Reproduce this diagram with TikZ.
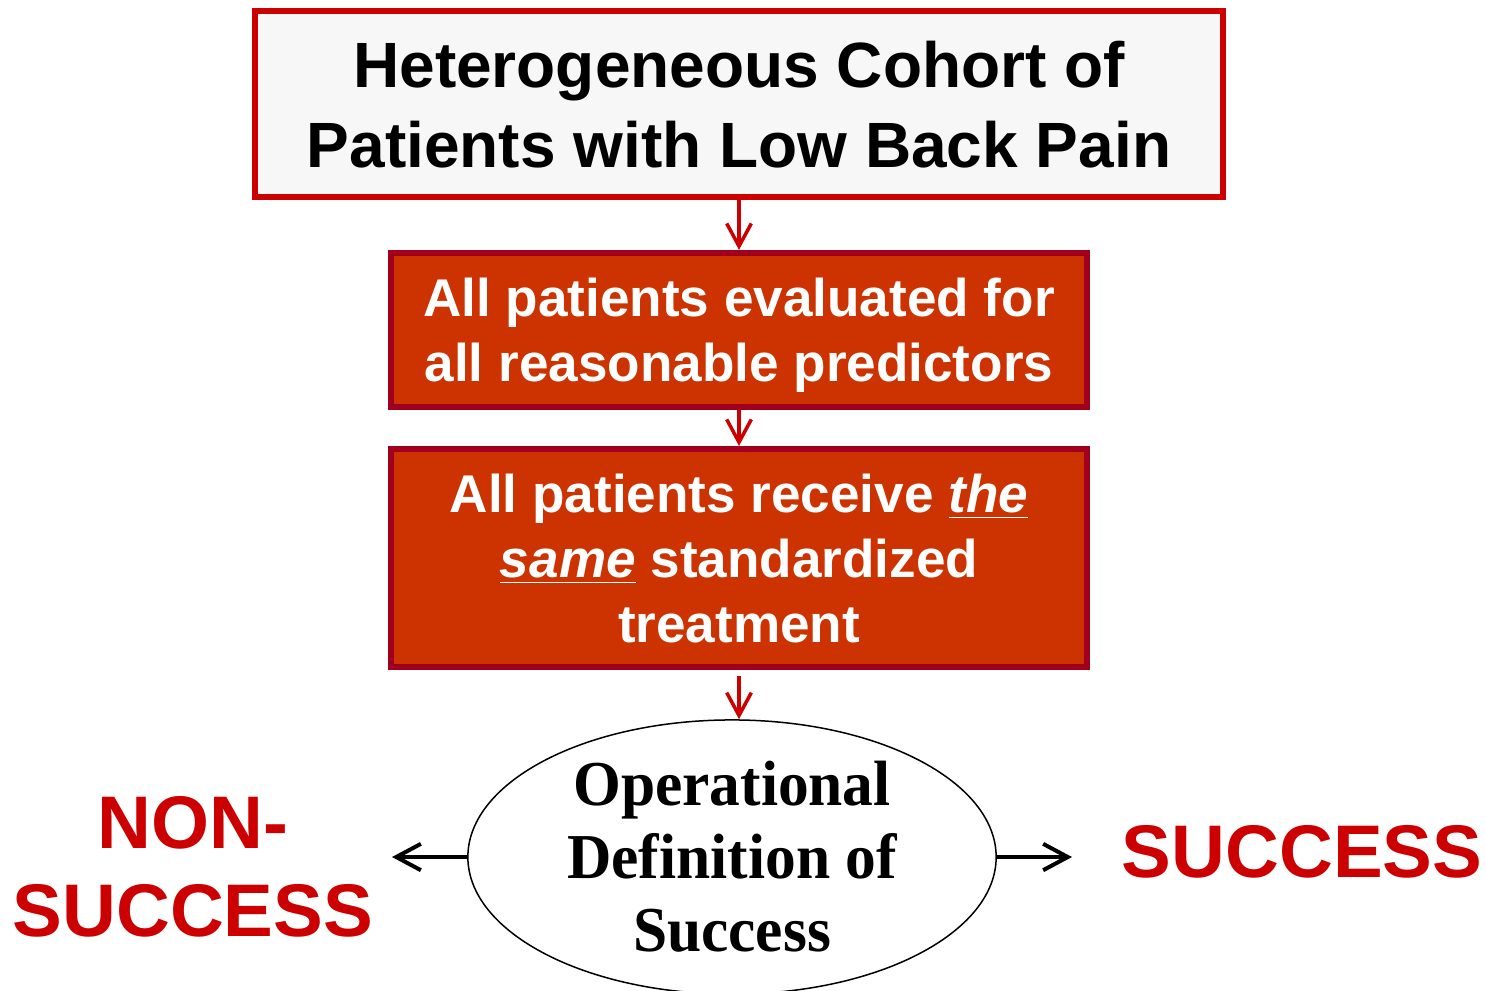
\documentclass[tikz,border=0pt]{standalone}
\usepackage{fontspec}
\setmainfont{Liberation Sans}
\newfontfamily\ovalfont[FakeStretch=0.96]{Liberation Serif}
\usetikzlibrary{shapes.geometric,arrows.meta}
\definecolor{boxred}{HTML}{CC0000}
\definecolor{boxfill}{HTML}{CC3300}
\definecolor{boxline}{HTML}{A0001E}
\tikzset{
	cohortbox/.style={draw=boxred, line width=6*0.2845pt, fill=black!3, minimum width=9.68cm, minimum height=1.86cm, align=center, text depth=-1.7pt, font=\fontsize{18.2}{22.8}\selectfont\bfseries},
	stagebox/.style={draw=boxline, line width=6*0.2845pt, fill=boxfill, text=white, minimum width=6.96cm, align=center, font=\fontsize{15.1}{18.5}\selectfont\bfseries},
	outcome/.style={text=boxred, align=center, font=\fontsize{21.2}{25}\selectfont\bfseries},
	redarrow/.style={draw=boxred, line width=3.5*0.2845pt, -{Straight Barb[length=6.5pt,width=7pt,line width=3.5*0.2845pt]}},
	blackarrow/.style={draw=black, line width=4*0.2845pt, -{Straight Barb[length=7pt,width=7.5pt,line width=4*0.2845pt]}}
}
\begin{document}
\begin{tikzpicture}[x=0.01cm, y=-0.01cm]
			\useasboundingbox (0,0) rectangle (1486,990);
			\node[cohortbox] (cohort) at (739,104) {Heterogeneous Cohort of\\Patients with Low Back Pain};
			\node[stagebox, minimum height=1.54cm, text depth=-0.8pt] (eval) at (739,330) {All patients evaluated for\\all reasonable predictors};
			\node[stagebox, minimum height=2.18cm, text depth=-1.7pt] (treat) at (739,558) {All patients receive \underline{\itshape the}\\\underline{\itshape same} standardized\\treatment};
			\node[ellipse, draw, line width=1.5*0.2845pt, minimum width=5.28cm, minimum height=2.74cm, inner xsep=0pt, inner ysep=-0.08cm, align=center, font=\ovalfont\fontsize{18.2}{20.8}\selectfont\bfseries] (oval) at (732,857) {Operational\\Definition of\\Success};
			\node[outcome] (nonsucc) at (193,867) {NON-\\SUCCESS};
			\node[outcome] (succ) at (1302,852) {SUCCESS};
			\coordinate (leftend) at (392,857);
			\coordinate (rightend) at (1072,857);
			\draw[redarrow] (cohort.south) -- (eval.north);
			\draw[redarrow] (eval.south) -- (treat.north);
			\draw[redarrow] ([yshift=-0.06cm]treat.south) -- (treat.south |- oval.north);
			\draw[blackarrow] (oval.west) -- (leftend);
			\draw[blackarrow] (oval.east) -- (rightend);
		\end{tikzpicture}
\end{document}
